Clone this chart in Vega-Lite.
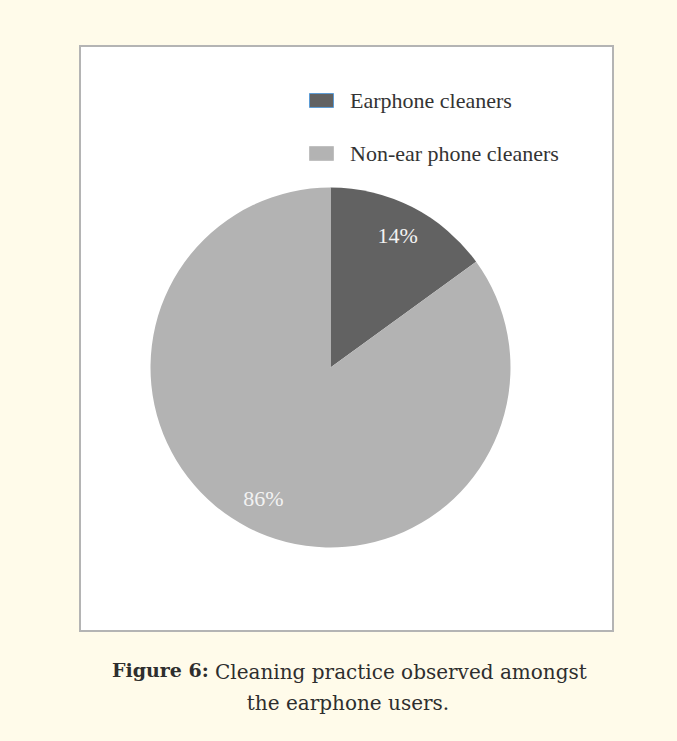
{
  "$schema": "https://vega.github.io/schema/vega-lite/v6.json",
  "background": "#fffbea",
  "padding": {"left": 79, "top": 45, "right": 64, "bottom": 40},
  "title": {
    "text": "Figure 6:",
    "orient": "bottom",
    "anchor": "start",
    "dx": 33,
    "dy": -53,
    "offset": 0,
    "font": "DejaVu Serif",
    "fontSize": 19,
    "fontWeight": "bold",
    "color": "#2e2e2e"
  },
  "data": {"values": [
    {"group": "Earphone cleaners", "value": 15, "label": "14%"},
    {"group": "Non-ear phone cleaners", "value": 85, "label": "86%"}
  ]},
  "vconcat": [
    {
      "width": 533,
      "height": 585,
      "view": {"fill": "#ffffff", "stroke": "#b4b4b4", "strokeWidth": 2},
      "title": {
        "text": ["Cleaning practice observed amongst", "\u200d\u00a0\u00a0\u00a0\u00a0\u00a0the earphone users."],
        "orient": "bottom",
        "anchor": "start",
        "dx": 135,
        "offset": 32,
        "font": "DejaVu Serif",
        "fontSize": 20,
        "fontWeight": "normal",
        "lineHeight": 31,
        "color": "#2e2e2e"
      },
      "encoding": {
        "theta": {"field": "value", "type": "quantitative", "stack": true}
      },
      "layer": [
        {
          "mark": {"type": "arc", "outerRadius": 180, "xOffset": -16, "yOffset": 29},
          "encoding": {
            "color": {
              "field": "group",
              "type": "nominal",
              "scale": {"domain": ["Earphone cleaners", "Non-ear phone cleaners"], "range": ["#626262", "#b3b3b3"]},
              "legend": {
                "title": null,
                "orient": "none",
                "legendX": 229,
                "legendY": 42,
                "symbolType": "M-1,-0.58H1V0.58H-1Z",
                "symbolSize": 576,
                "symbolStrokeWidth": 1,
                "labelFont": "Liberation Serif",
                "labelFontSize": 22,
                "labelColor": "#333333",
                "labelOffset": 16,
                "labelLimit": 0,
                "rowPadding": 29,
                "padding": 0,
                "encode": {
                  "symbols": {
                    "update": {
                      "fill": {"signal": "datum.value === 'Earphone cleaners' ? '#7f7f7f' : '#c0c0c0'"},
                      "stroke": {"signal": "datum.value === 'Earphone cleaners' ? '#5b9bd5' : '#c0c0c0'"},
                      "opacity": {"value": 1}
                    }
                  }
                }
              }
            }
          }
        },
        {
          "mark": {"type": "text", "radius": 148, "xOffset": -16, "yOffset": 29, "font": "Liberation Serif", "fontSize": 22, "color": "#f2f2f2"},
          "encoding": {"text": {"field": "label", "type": "nominal"}}
        }
      ]
    }
  ]
}
